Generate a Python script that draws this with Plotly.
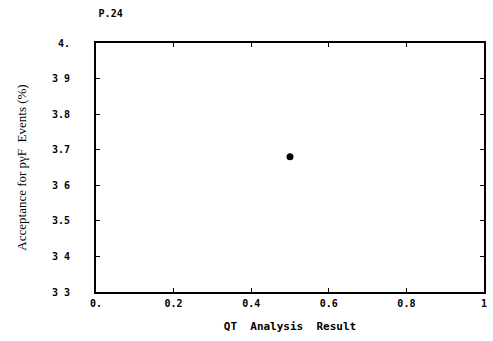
import plotly.graph_objects as go

# Single measurement: acceptance vs. QT analysis result
qt_result = [0.5]
acceptance = [3.68]

x_tickvals = [0, 0.2, 0.4, 0.6, 0.8, 1]
x_ticktext = ["0.", "0.2", "0.4", "0.6", "0.8", "1"]
y_tickvals = [3.3, 3.4, 3.5, 3.6, 3.7, 3.8, 3.9, 4.0]
y_ticktext = ["3 3", "3 4", "3.5", "3 6", "3.7", "3.8", "3 9", "4."]

mono = "DejaVu Sans Mono"

fig = go.Figure()
fig.add_trace(go.Scatter(
    x=qt_result, y=acceptance, mode="markers",
    marker=dict(color="black", size=7, symbol="circle"),
    showlegend=False,
))

axis_common = dict(
    showgrid=False, zeroline=False, showline=True, linecolor="black",
    linewidth=2, mirror="ticks", ticks="inside", ticklen=4, tickwidth=1,
    tickcolor="black",
    tickfont=dict(family=mono, size=10, color="black", weight="bold"),
)

fig.update_layout(
    width=493, height=341,
    margin=dict(l=96, r=6, t=43, b=49),
    paper_bgcolor="white", plot_bgcolor="white",
    title=dict(
        text="P.24", x=0.2, xanchor="left", y=0.97, yanchor="top",
        font=dict(family=mono, size=10, color="black", weight="bold"),
    ),
    xaxis=dict(
        range=[0, 1], tickvals=x_tickvals, ticktext=x_ticktext,
        ticklabelstandoff=1,
        title=dict(text="QT  Analysis  Result", standoff=14,
                   font=dict(family=mono, size=11, color="black", weight="bold")),
        **axis_common,
    ),
    yaxis=dict(
        range=[3.3, 4.0], tickvals=y_tickvals, ticktext=y_ticktext,
        ticklabelstandoff=22,
        title=dict(text="Acceptance for pγF  Events (%)", standoff=22,
                   font=dict(family="Liberation Serif", size=13, color="black")),
        **axis_common,
    ),
)

fig.write_html("out.html")
